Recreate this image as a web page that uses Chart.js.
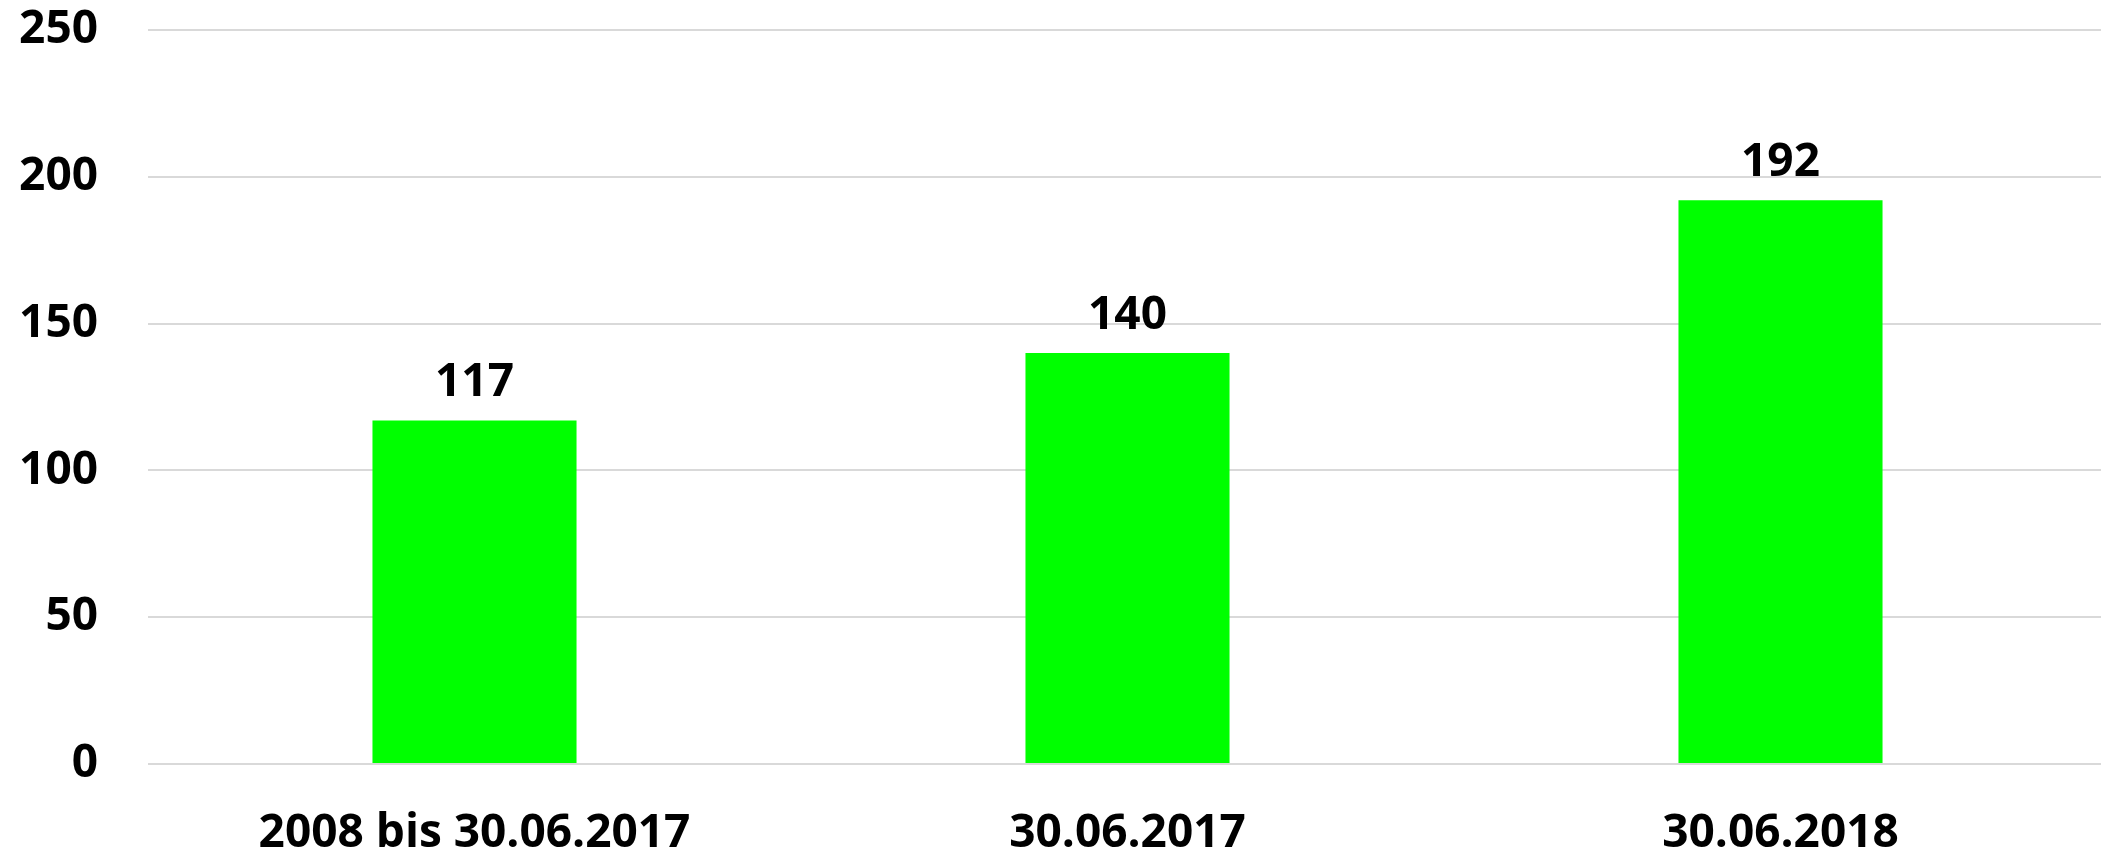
<!DOCTYPE html>
<html>
<head>
<meta charset="utf-8">
<script src="https://cdn.jsdelivr.net/npm/chart.js@4"></script>
<style>
  html, body { margin: 0; padding: 0; background: #fff; overflow: hidden; }
  #wrap { width: 2107px; height: 853px; }
</style>
</head>
<body>
<div id="wrap"><canvas id="myChart"></canvas></div>
<script>
// chart data
const categories = ["2008 bis 30.06.2017", "30.06.2017", "30.06.2018"];
const values = [117, 140, 192];
const y_ticks = [0, 50, 100, 150, 200, 250];

const font_family = "'Open Sans', 'Noto Sans', sans-serif";

// draws the value above each bar
const bar_labels = {
  id: 'bar_labels',
  afterDatasetsDraw(chart) {
    const c = chart.ctx;
    const meta = chart.getDatasetMeta(0);
    c.save();
    c.font = "bold 46px " + font_family;
    c.fillStyle = "#000";
    c.textAlign = "center";
    c.textBaseline = "alphabetic";
    meta.data.forEach(function(bar, i) {
      c.fillText(values[i], bar.x, bar.y - 24);
    });
    c.restore();
  }
};

var ctx = document.getElementById('myChart');
var a = new Chart(ctx, {
  type: 'bar',
  data: {
    labels: categories,
    datasets: [{
      data: values,
      backgroundColor: '#00ff00',
      borderWidth: 0,
      barPercentage: 0.3125,
      categoryPercentage: 1
    }]
  },
  options: {
    responsive: true,
    maintainAspectRatio: false,
    animation: false,
    layout: { padding: 0 },
    plugins: { legend: { display: false }, tooltip: { enabled: false } },
    scales: {
      x: {
        grid: { display: false },
        border: { display: false },
        ticks: {
          color: '#000',
          padding: 34,
          font: { family: font_family, size: 46, weight: 'bold' }
        },
        afterFit(scale) { scale.height = 89; }
      },
      y: {
        min: 0,
        max: 250,
        afterBuildTicks(scale) {
          scale.ticks = y_ticks.map(v => ({ value: v }));
        },
        grid: { color: '#d9d9d9', lineWidth: 2, drawTicks: false },
        border: { display: false },
        ticks: {
          color: '#000',
          padding: 50,
          font: { family: font_family, size: 46, weight: 'bold' }
        },
        afterFit(scale) {
          scale.width = 148;
          scale.paddingTop = 30;
          scale.paddingBottom = 0;
        }
      }
    }
  },
  plugins: [bar_labels]
});
</script>
</body>
</html>
